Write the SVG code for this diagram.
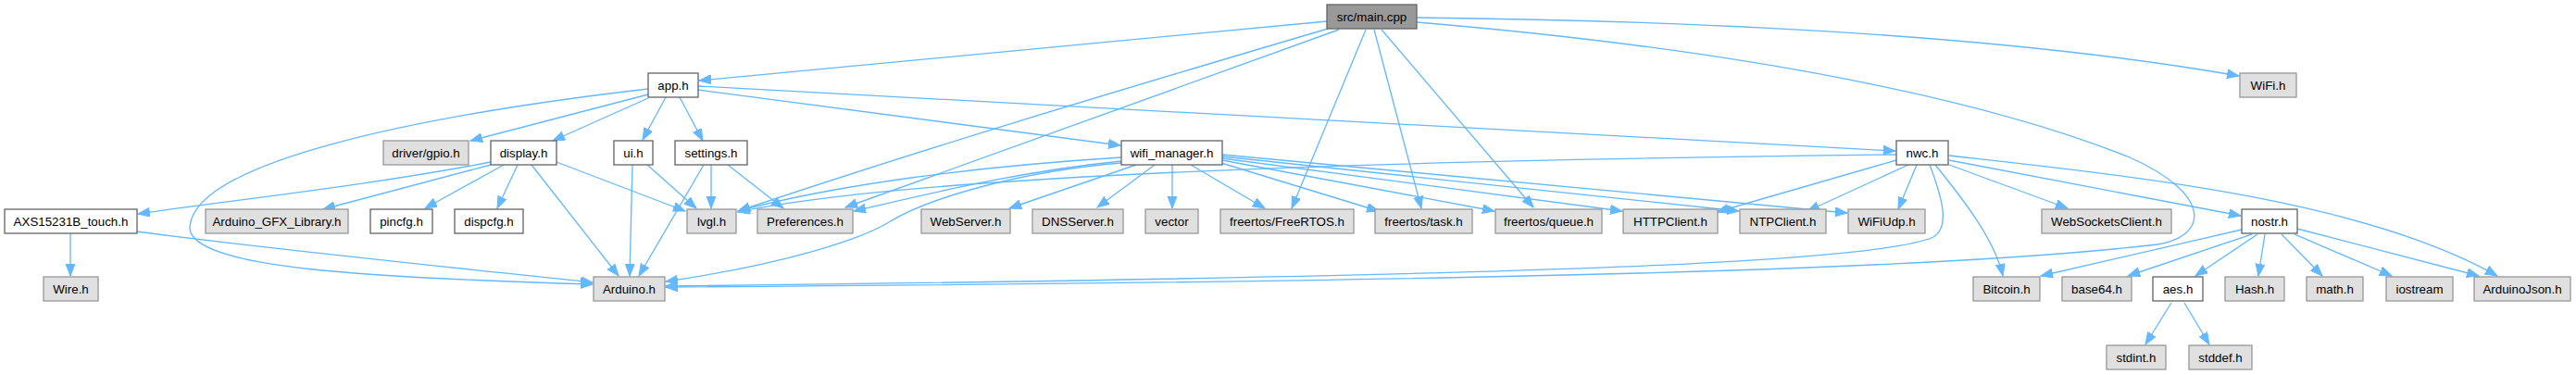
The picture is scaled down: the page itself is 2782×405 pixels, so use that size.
<svg xmlns="http://www.w3.org/2000/svg" width="2782" height="405" viewBox="0 0 2782 405">
<style>
.n rect{stroke-width:1.33}
.doc rect{fill:#ffffff;stroke:#666666}
.ext rect{fill:#e0e0e0;stroke:#999999}
.main rect{fill:#999999;stroke:#666666}
text{font-family:"Liberation Sans",Arial,sans-serif;font-size:13.33px;text-anchor:middle;fill:#000000}
#edges path{fill:none;stroke:#63b8ff;stroke-width:1.33;marker-end:url(#ah)}
</style>
<defs>
<marker id="ah" markerUnits="userSpaceOnUse" markerWidth="14" markerHeight="11" refX="13" refY="5" orient="auto">
<path d="M0,0 L13,5 L0,10 z" fill="#63b8ff" stroke="#63b8ff" stroke-width="1"/>
</marker>
</defs>
<rect width="2782" height="405" fill="#ffffff"/>
<g id="edges">
<path d="M1433,23 L755,87"/>
<path d="M1434,31 C1200,100 1000,160 797,228"/>
<path d="M1446,32 L913,224"/>
<path d="M1475,32 L1395,225"/>
<path d="M1484,32 L1535,225"/>
<path d="M1492,32 L1656,224"/>
<path d="M1530,19 C1800,22 2150,35 2418,82"/>
<path d="M1530,24 C1900,55 2150,110 2300,170 C2390,210 2385,255 2330,264 C2150,285 1800,303 719,310"/>
<path d="M700,102 L508,152"/>
<path d="M700,106 L597,152"/>
<path d="M719,105 L694,151"/>
<path d="M734,105 L759,152"/>
<path d="M700,96 C450,125 210,175 205,245 C203,290 400,300 640,307"/>
<path d="M754,97 L1210,157"/>
<path d="M754,93 L2047,163"/>
<path d="M530,175 C400,200 260,215 149,231"/>
<path d="M530,178 L349,226"/>
<path d="M544,178 L459,225"/>
<path d="M559,178 L537,225"/>
<path d="M574,178 L668,298"/>
<path d="M601,175 L740,228"/>
<path d="M683,178 L680,298"/>
<path d="M699,178 L752,225"/>
<path d="M760,178 L690,298"/>
<path d="M768,178 L768,225"/>
<path d="M786,178 L846,225"/>
<path d="M76,252 L76,298"/>
<path d="M147,250 C300,270 500,290 640,305"/>
<path d="M1211,170 C1050,180 900,200 797,228"/>
<path d="M1211,174 C1100,185 1000,210 922,228"/>
<path d="M1211,176 C1100,185 1000,215 960,240 C930,258 850,285 719,304"/>
<path d="M1227,178 L1090,225"/>
<path d="M1247,178 L1185,224"/>
<path d="M1266,178 L1266,225"/>
<path d="M1286,178 L1366,225"/>
<path d="M1319,176 L1489,228"/>
<path d="M1320,173 L1614,228"/>
<path d="M1320,171 L1752,228"/>
<path d="M1320,169 L1878,228"/>
<path d="M1320,167 L1995,230"/>
<path d="M2048,167 C1600,172 1000,185 797,229"/>
<path d="M2048,173 L1854,229"/>
<path d="M2061,178 L1952,228"/>
<path d="M2070,178 L2050,226"/>
<path d="M2105,178 L2233,225"/>
<path d="M2105,173 L2420,233"/>
<path d="M2105,168 C2300,190 2550,215 2697,298"/>
<path d="M2090,178 C2120,215 2155,260 2163,298"/>
<path d="M2084,178 C2098,215 2106,245 2088,256 C2030,282 1700,298 719,309"/>
<path d="M2421,248 L2204,298"/>
<path d="M2432,253 L2298,298"/>
<path d="M2438,253 L2371,298"/>
<path d="M2446,253 L2439,298"/>
<path d="M2464,253 L2508,298"/>
<path d="M2478,253 L2583,298"/>
<path d="M2481,247 L2677,298"/>
<path d="M2345,327 L2317,372"/>
<path d="M2359,327 L2386,372"/>
</g>
<g id="n_main" class="n main"><rect x="1433" y="5" width="97" height="26"/><text x="1481.5" y="22.5">src/main.cpp</text></g>
<g id="n_app" class="n doc"><rect x="700" y="79" width="54" height="26"/><text x="727" y="96.5">app.h</text></g>
<g id="n_wifi" class="n ext"><rect x="2419" y="79" width="61" height="26"/><text x="2449.5" y="96.5">WiFi.h</text></g>
<g id="n_gpio" class="n ext"><rect x="414" y="152" width="92" height="26"/><text x="460" y="169.5">driver/gpio.h</text></g>
<g id="n_display" class="n doc"><rect x="530" y="152" width="71" height="26"/><text x="565.5" y="169.5">display.h</text></g>
<g id="n_ui" class="n doc"><rect x="663" y="152" width="42" height="26"/><text x="684" y="169.5">ui.h</text></g>
<g id="n_settings" class="n doc"><rect x="729" y="152" width="78" height="26"/><text x="768" y="169.5">settings.h</text></g>
<g id="n_wifimgr" class="n doc"><rect x="1211" y="152" width="109" height="26"/><text x="1265.5" y="169.5">wifi_manager.h</text></g>
<g id="n_nwc" class="n doc"><rect x="2048" y="152" width="56" height="26"/><text x="2076" y="169.5">nwc.h</text></g>
<g id="n_axs" class="n doc"><rect x="5" y="226" width="143" height="26"/><text x="76.5" y="243.5">AXS15231B_touch.h</text></g>
<g id="n_gfx" class="n ext"><rect x="222" y="226" width="154" height="26"/><text x="299" y="243.5">Arduino_GFX_Library.h</text></g>
<g id="n_pincfg" class="n doc"><rect x="400" y="226" width="67" height="26"/><text x="433.5" y="243.5">pincfg.h</text></g>
<g id="n_dispcfg" class="n doc"><rect x="491" y="226" width="74" height="26"/><text x="528" y="243.5">dispcfg.h</text></g>
<g id="n_lvgl" class="n ext"><rect x="742" y="226" width="53" height="26"/><text x="768.5" y="243.5">lvgl.h</text></g>
<g id="n_prefs" class="n ext"><rect x="818" y="226" width="103" height="26"/><text x="869.5" y="243.5">Preferences.h</text></g>
<g id="n_webserver" class="n ext"><rect x="995" y="226" width="96" height="26"/><text x="1043" y="243.5">WebServer.h</text></g>
<g id="n_dnsserver" class="n ext"><rect x="1115" y="226" width="98" height="26"/><text x="1164" y="243.5">DNSServer.h</text></g>
<g id="n_vector" class="n ext"><rect x="1237" y="226" width="57" height="26"/><text x="1265.5" y="243.5">vector</text></g>
<g id="n_freertos" class="n ext"><rect x="1318" y="226" width="144" height="26"/><text x="1390" y="243.5">freertos/FreeRTOS.h</text></g>
<g id="n_task" class="n ext"><rect x="1485" y="226" width="105" height="26"/><text x="1537.5" y="243.5">freertos/task.h</text></g>
<g id="n_queue" class="n ext"><rect x="1615" y="226" width="115" height="26"/><text x="1672.5" y="243.5">freertos/queue.h</text></g>
<g id="n_http" class="n ext"><rect x="1753" y="226" width="102" height="26"/><text x="1804" y="243.5">HTTPClient.h</text></g>
<g id="n_ntp" class="n ext"><rect x="1879" y="226" width="93" height="26"/><text x="1925.5" y="243.5">NTPClient.h</text></g>
<g id="n_wifiudp" class="n ext"><rect x="1996" y="226" width="83" height="26"/><text x="2037.5" y="243.5">WiFiUdp.h</text></g>
<g id="n_ws" class="n ext"><rect x="2205" y="226" width="140" height="26"/><text x="2275" y="243.5">WebSocketsClient.h</text></g>
<g id="n_nostr" class="n doc"><rect x="2421" y="226" width="60" height="26"/><text x="2451" y="243.5">nostr.h</text></g>
<g id="n_wire" class="n ext"><rect x="47" y="299" width="59" height="26"/><text x="76.5" y="316.5">Wire.h</text></g>
<g id="n_arduino" class="n ext"><rect x="641" y="299" width="77" height="26"/><text x="679.5" y="316.5">Arduino.h</text></g>
<g id="n_bitcoin" class="n ext"><rect x="2131" y="299" width="72" height="26"/><text x="2167" y="316.5">Bitcoin.h</text></g>
<g id="n_base64" class="n ext"><rect x="2227" y="299" width="75" height="26"/><text x="2264.5" y="316.5">base64.h</text></g>
<g id="n_aes" class="n doc"><rect x="2325" y="299" width="54" height="26"/><text x="2352" y="316.5">aes.h</text></g>
<g id="n_hash" class="n ext"><rect x="2403" y="299" width="64" height="26"/><text x="2435" y="316.5">Hash.h</text></g>
<g id="n_math" class="n ext"><rect x="2491" y="299" width="61" height="26"/><text x="2521.5" y="316.5">math.h</text></g>
<g id="n_iostream" class="n ext"><rect x="2577" y="299" width="72" height="26"/><text x="2613" y="316.5">iostream</text></g>
<g id="n_arduinojson" class="n ext"><rect x="2672" y="299" width="104" height="26"/><text x="2724" y="316.5">ArduinoJson.h</text></g>
<g id="n_stdint" class="n ext"><rect x="2275" y="373" width="64" height="26"/><text x="2307" y="390.5">stdint.h</text></g>
<g id="n_stddef" class="n ext"><rect x="2364" y="373" width="68" height="26"/><text x="2398" y="390.5">stddef.h</text></g>
</svg>
